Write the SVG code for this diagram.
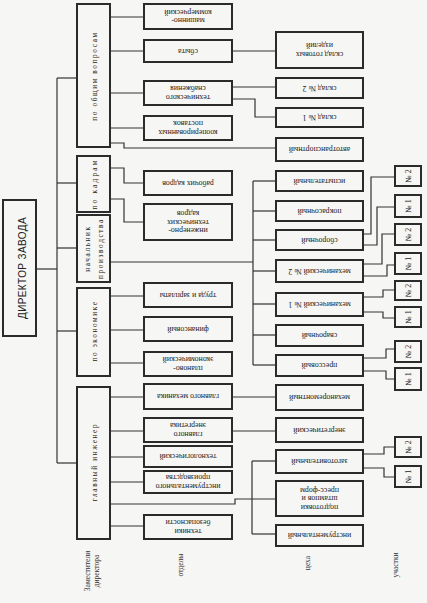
<svg xmlns="http://www.w3.org/2000/svg" width="427" height="603" viewBox="0 0 427 603">
<style>
.bg{fill:#f6f6f4}
.box{fill:none;stroke:#2b2b2b;stroke-width:2}
.ln{fill:none;stroke:#333;stroke-width:1.2}
.t{font-family:"Liberation Serif",serif;font-size:7.8px;fill:#222;text-anchor:middle}
.d{font-family:"Liberation Serif",serif;font-size:7.3px;fill:#222;text-anchor:middle;letter-spacing:1.6px}
.dir{font-family:"Liberation Sans",sans-serif;font-size:10px;fill:#222;text-anchor:middle;letter-spacing:0.4px}
.lab{font-family:"Liberation Serif",serif;font-size:7.5px;fill:#333;text-anchor:middle}
</style>
<rect class="bg" x="0" y="0" width="427" height="603"/>

<g id="connectors">
<polyline class="ln" points="36,269 57,269"/>
<polyline class="ln" points="57,78 57,463"/>
<polyline class="ln" points="57,78 77,78"/>
<polyline class="ln" points="57,183 77,183"/>
<polyline class="ln" points="57,248 77,248"/>
<polyline class="ln" points="57,331 77,331"/>
<polyline class="ln" points="57,463 77,463"/>
<polyline class="ln" points="110,17 144,17"/>
<polyline class="ln" points="110,51 144,51"/>
<polyline class="ln" points="110,93 144,93"/>
<polyline class="ln" points="110,128 144,128"/>
<polyline class="ln" points="110,143 124,143 124,148 276,148"/>
<polyline class="ln" points="232,51 276,51"/>
<polyline class="ln" points="232,87 276,87"/>
<polyline class="ln" points="232,99 255,99 255,117 276,117"/>
<polyline class="ln" points="110,168 124,168 124,183 144,183"/>
<polyline class="ln" points="110,199 124,199 124,222 144,222"/>
<polyline class="ln" points="110,262 253,262"/>
<polyline class="ln" points="253,181 253,365"/>
<polyline class="ln" points="253,181 276,181"/>
<polyline class="ln" points="253,211 276,211"/>
<polyline class="ln" points="253,240 276,240"/>
<polyline class="ln" points="253,271 276,271"/>
<polyline class="ln" points="253,304 276,304"/>
<polyline class="ln" points="253,335 276,335"/>
<polyline class="ln" points="253,365 276,365"/>
<polyline class="ln" points="110,296 144,296"/>
<polyline class="ln" points="110,330 144,330"/>
<polyline class="ln" points="110,363 144,363"/>
<polyline class="ln" points="110,397 144,397"/>
<polyline class="ln" points="110,431 144,431"/>
<polyline class="ln" points="110,457 144,457"/>
<polyline class="ln" points="110,482 144,482"/>
<polyline class="ln" points="110,526 144,526"/>
<polyline class="ln" points="110,504 235,504 235,499 276,499"/>
<polyline class="ln" points="252,461 252,534"/>
<polyline class="ln" points="252,461 276,461"/>
<polyline class="ln" points="252,534 276,534"/>
<polyline class="ln" points="232,397 276,397"/>
<polyline class="ln" points="232,431 276,431"/>
<polyline class="ln" points="363,234 371,234 371,177 395,177"/>
<polyline class="ln" points="363,245 377,245 377,207 395,207"/>
<polyline class="ln" points="363,264 382,264 382,234 395,234"/>
<polyline class="ln" points="363,276 387,276 387,265 395,265"/>
<polyline class="ln" points="363,297 383,297 383,290 395,290"/>
<polyline class="ln" points="363,312 383,312 383,318 395,318"/>
<polyline class="ln" points="363,358 386,358 386,349 395,349"/>
<polyline class="ln" points="363,371 386,371 386,379 395,379"/>
<polyline class="ln" points="363,454 384,454 384,447 395,447"/>
<polyline class="ln" points="363,468 384,468 384,477 395,477"/>
</g>

<g id="director">
<rect class="box" x="3" y="200" width="33" height="136"/>
<text class="dir" transform="rotate(-90 22 268)" x="22" y="271.5">ДИРЕКТОР ЗАВОДА</text>
</g>

<g id="dep-general">
<rect class="box" x="77" y="4" width="33" height="143"/>
<text class="d" transform="rotate(-90 94 76)" x="94" y="78.5">по общим вопросам</text>
</g>
<g id="dep-staff">
<rect class="box" x="77" y="156" width="33" height="56"/>
<text class="d" transform="rotate(-90 94 184)" x="94" y="186.5" style="letter-spacing:2.2px">по кадрам</text>
</g>
<g id="dep-production">
<rect class="box" x="77" y="215" width="33" height="67"/>
<text class="d" transform="rotate(-90 93.5 248.5)"><tspan x="93.5" y="245">начальник</tspan><tspan x="93.5" y="258">производства</tspan></text>
</g>
<g id="dep-economy">
<rect class="box" x="77" y="288" width="33" height="88"/>
<text class="d" transform="rotate(-90 94 331)" x="94" y="333.5">по экономике</text>
</g>
<g id="dep-engineer">
<rect class="box" x="77" y="387" width="33" height="152"/>
<text class="d" transform="rotate(-90 94 462)" x="94" y="464.5">главный инженер</text>
</g>

<g id="o1"><rect class="box" x="144" y="4" width="88" height="25"/>
<text class="t" transform="rotate(180 188 16.5)"><tspan x="188" y="15">машинно-</tspan><tspan x="188" y="23.5">коммерческий</tspan></text></g>
<g id="o2"><rect class="box" x="144" y="40" width="88" height="22"/>
<text class="t" transform="rotate(180 188 51)" x="188" y="53.5">сбыта</text></g>
<g id="o3"><rect class="box" x="144" y="81" width="88" height="24"/>
<text class="t" transform="rotate(180 188 93)"><tspan x="188" y="91.5">технического</tspan><tspan x="188" y="100">снабжения</tspan></text></g>
<g id="o4"><rect class="box" x="144" y="116" width="88" height="24"/>
<text class="t" transform="rotate(180 188 128)"><tspan x="188" y="126.5">кооперированных</tspan><tspan x="188" y="135">поставок</tspan></text></g>
<g id="o5"><rect class="box" x="144" y="171" width="88" height="24"/>
<text class="t" transform="rotate(180 188 183)" x="188" y="185.5">рабочих кадров</text></g>
<g id="o6"><rect class="box" x="144" y="204" width="88" height="36"/>
<text class="t" transform="rotate(180 188 222)"><tspan x="188" y="216">инженерно-</tspan><tspan x="188" y="224.5">технических</tspan><tspan x="188" y="233">кадров</tspan></text></g>
<g id="o7"><rect class="box" x="144" y="283" width="88" height="24"/>
<text class="t" transform="rotate(180 188 295)" x="188" y="297.5">труда и зарплаты</text></g>
<g id="o8"><rect class="box" x="144" y="317" width="88" height="24"/>
<text class="t" transform="rotate(180 188 329)" x="188" y="331.5">финансовый</text></g>
<g id="o9"><rect class="box" x="144" y="352" width="88" height="24"/>
<text class="t" transform="rotate(180 188 364)"><tspan x="188" y="362.5">планово-</tspan><tspan x="188" y="371">экономический</tspan></text></g>
<g id="o10"><rect class="box" x="144" y="384" width="88" height="25"/>
<text class="t" transform="rotate(180 188 396.5)" x="188" y="399">главного механика</text></g>
<g id="o11"><rect class="box" x="144" y="418" width="88" height="24"/>
<text class="t" transform="rotate(180 188 430)"><tspan x="188" y="428.5">главного</tspan><tspan x="188" y="437">энергетика</tspan></text></g>
<g id="o12"><rect class="box" x="144" y="446" width="88" height="21"/>
<text class="t" transform="rotate(180 188 456.5)" x="188" y="459">технологический</text></g>
<g id="o13"><rect class="box" x="144" y="471" width="88" height="22"/>
<text class="t" transform="rotate(180 188 482)"><tspan x="188" y="480.5">инструментального</tspan><tspan x="188" y="489">производства</tspan></text></g>
<g id="o14"><rect class="box" x="144" y="515" width="88" height="24"/>
<text class="t" transform="rotate(180 188 527)"><tspan x="188" y="525.5">техники</tspan><tspan x="188" y="534">безопасности</tspan></text></g>

<g id="c1"><rect class="box" x="276" y="32" width="87" height="36"/>
<text class="t" transform="rotate(180 319.5 50)"><tspan x="319.5" y="48.5">склад готовых</tspan><tspan x="319.5" y="57">изделий</tspan></text></g>
<g id="c2"><rect class="box" x="276" y="78" width="87" height="20"/>
<text class="t" transform="rotate(180 319.5 88)" x="319.5" y="90.5">склад № 2</text></g>
<g id="c3"><rect class="box" x="276" y="108" width="87" height="19"/>
<text class="t" transform="rotate(180 319.5 117.5)" x="319.5" y="120">склад № 1</text></g>
<g id="c4"><rect class="box" x="276" y="138" width="87" height="23"/>
<text class="t" transform="rotate(180 319.5 149.5)" x="319.5" y="152">автотранспортный</text></g>
<g id="c5"><rect class="box" x="276" y="171" width="87" height="20"/>
<text class="t" transform="rotate(180 319.5 181)" x="319.5" y="183.5">испытательный</text></g>
<g id="c6"><rect class="box" x="276" y="201" width="87" height="20"/>
<text class="t" transform="rotate(180 319.5 211)" x="319.5" y="213.5">покрасочный</text></g>
<g id="c7"><rect class="box" x="276" y="230" width="87" height="20"/>
<text class="t" transform="rotate(180 319.5 240)" x="319.5" y="242.5">сборочный</text></g>
<g id="c8"><rect class="box" x="276" y="260" width="87" height="22"/>
<text class="t" transform="rotate(180 319.5 271)" x="319.5" y="273.5">механический № 2</text></g>
<g id="c9"><rect class="box" x="276" y="293" width="87" height="23"/>
<text class="t" transform="rotate(180 319.5 304.5)" x="319.5" y="307">механический № 1</text></g>
<g id="c10"><rect class="box" x="276" y="325" width="87" height="21"/>
<text class="t" transform="rotate(180 319.5 335.5)" x="319.5" y="338">сварочный</text></g>
<g id="c11"><rect class="box" x="276" y="355" width="87" height="21"/>
<text class="t" transform="rotate(180 319.5 365.5)" x="319.5" y="368">прессовый</text></g>
<g id="c12"><rect class="box" x="276" y="385" width="87" height="25"/>
<text class="t" transform="rotate(180 319.5 397.5)" x="319.5" y="400">механоремонтный</text></g>
<g id="c13"><rect class="box" x="276" y="418" width="87" height="24"/>
<text class="t" transform="rotate(180 319.5 430)" x="319.5" y="432.5">энергетический</text></g>
<g id="c14"><rect class="box" x="276" y="450" width="87" height="23"/>
<text class="t" transform="rotate(180 319.5 461.5)" x="319.5" y="464">заготовительный</text></g>
<g id="c15"><rect class="box" x="276" y="481" width="87" height="35"/>
<text class="t" transform="rotate(180 319.5 498.5)"><tspan x="319.5" y="492.5">подготовки</tspan><tspan x="319.5" y="501">штампов и</tspan><tspan x="319.5" y="509.5">пресс-форм</tspan></text></g>
<g id="c16"><rect class="box" x="276" y="525" width="87" height="21"/>
<text class="t" transform="rotate(180 319.5 535.5)" x="319.5" y="538">инструментальный</text></g>

<g id="u1"><rect class="box" x="395" y="166" width="26" height="20"/><text class="t" transform="rotate(-90 408 176)" x="408" y="178.5">№ 2</text></g>
<g id="u2"><rect class="box" x="395" y="195" width="26" height="22"/><text class="t" transform="rotate(-90 408 206)" x="408" y="208.5">№ 1</text></g>
<g id="u3"><rect class="box" x="395" y="224" width="26" height="21"/><text class="t" transform="rotate(-90 408 234.5)" x="408" y="237">№ 2</text></g>
<g id="u4"><rect class="box" x="395" y="253" width="26" height="21"/><text class="t" transform="rotate(-90 408 263.5)" x="408" y="266">№ 1</text></g>
<g id="u5"><rect class="box" x="395" y="281" width="26" height="19"/><text class="t" transform="rotate(-90 408 290.5)" x="408" y="293">№ 2</text></g>
<g id="u6"><rect class="box" x="395" y="307" width="26" height="20"/><text class="t" transform="rotate(-90 408 317)" x="408" y="319.5">№ 1</text></g>
<g id="u7"><rect class="box" x="395" y="341" width="26" height="21"/><text class="t" transform="rotate(-90 408 351.5)" x="408" y="354">№ 2</text></g>
<g id="u8"><rect class="box" x="395" y="368" width="26" height="22"/><text class="t" transform="rotate(-90 408 379)" x="408" y="381.5">№ 1</text></g>
<g id="u9"><rect class="box" x="395" y="437" width="26" height="20"/><text class="t" transform="rotate(-90 408 447)" x="408" y="449.5">№ 2</text></g>
<g id="u10"><rect class="box" x="395" y="466" width="26" height="21"/><text class="t" transform="rotate(-90 408 476.5)" x="408" y="479">№ 1</text></g>

<g id="labels">
<text class="lab" transform="rotate(-90 93 571)"><tspan x="93" y="568">Заместители</tspan><tspan x="93" y="577">директора</tspan></text>
<text class="lab" transform="rotate(-90 180 565)" x="180" y="567.5">отделы</text>
<text class="lab" transform="rotate(-90 307 563)" x="307" y="565.5">цеха</text>
<text class="lab" transform="rotate(-90 395 565)" x="395" y="567.5">участки</text>
</g>
</svg>
